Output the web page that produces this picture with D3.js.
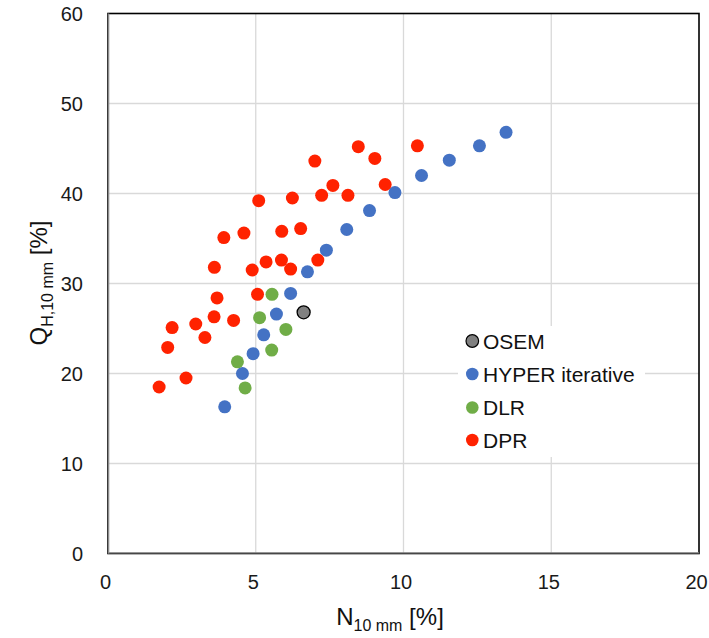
<!DOCTYPE html>
<html>
<head>
<meta charset="utf-8">
<script src="https://cdn.jsdelivr.net/npm/d3@7"></script>
<style>
  html, body { margin: 0; padding: 0; background: #fff; }
  svg { display: block; font-family: "Liberation Sans", Arial, sans-serif; }
</style>
</head>
<body>
<svg id="chart" width="709" height="638"></svg>
<script>
// Noise N10mm [%] (x) versus hot-sphere contrast QH,10mm [%] (y)
const osemN = [6.62];
const osemQ = [26.8];

const hyperN = [3.95, 4.55, 4.91, 5.27, 5.70, 6.18, 6.75, 7.39, 8.08, 8.85, 9.71, 10.61, 11.55, 12.57, 13.47];
const hyperQ = [16.3, 20.0, 22.2, 24.3, 26.6, 28.9, 31.3, 33.7, 36.0, 38.1, 40.1, 42.0, 43.7, 45.3, 46.8];

const dlrN = [5.55, 5.13, 6.02, 5.54, 4.38, 4.64];
const dlrQ = [28.8, 26.2, 24.9, 22.6, 21.3, 18.4];

const dprN = [7.00, 8.47, 9.03, 10.47, 7.61, 7.23, 8.12, 6.24, 5.10, 9.38,
              3.92, 4.60, 5.88, 6.52, 3.60, 4.88, 5.35, 5.87, 6.18, 7.10,
              3.69, 5.06, 3.59, 4.25, 2.17, 2.97, 3.28, 2.02, 2.64, 1.73];
const dprQ = [43.6, 45.2, 43.9, 45.3, 40.9, 39.8, 39.8, 39.5, 39.2, 41.0,
              35.1, 35.6, 35.8, 36.1, 31.8, 31.5, 32.4, 32.6, 31.6, 32.6,
              28.4, 28.8, 26.3, 25.9, 25.1, 25.5, 24.0, 22.9, 19.5, 18.5];

const xTicks = [0, 5, 10, 15, 20];
const yTicks = [0, 10, 20, 30, 40, 50, 60];

const series = [
  { name: "OSEM", n: osemN, q: osemQ, fill: "#808080", stroke: "#000" },
  { name: "HYPER iterative", n: hyperN, q: hyperQ, fill: "#4472C4", stroke: "none" },
  { name: "DLR", n: dlrN, q: dlrQ, fill: "#70AD47", stroke: "none" },
  { name: "DPR", n: dprN, q: dprQ, fill: "#FF2200", stroke: "none" }
];

const svg = d3.select("#chart");
const plotL = 108, plotR = 699, plotT = 13.5, plotB = 553.5;

const x = d3.scaleLinear().domain([0, 20]).range([plotL, plotR]);
const y = d3.scaleLinear().domain([0, 60]).range([plotB, plotT]);

// gridlines
const grid = svg.append("g").attr("stroke", "#d9d9d9").attr("stroke-width", 1.3);
grid.selectAll("line.v").data(xTicks.slice(1, -1)).join("line").attr("class", "v")
  .attr("x1", d => x(d)).attr("x2", d => x(d))
  .attr("y1", plotT).attr("y2", plotB);
grid.selectAll("line.h").data(yTicks.slice(1, -1)).join("line").attr("class", "h")
  .attr("x1", plotL).attr("x2", plotR)
  .attr("y1", d => y(d)).attr("y2", d => y(d));

// plot frame: black box with grey value axes on left and bottom
svg.append("rect")
  .attr("x", plotL).attr("y", plotT)
  .attr("width", plotR - plotL).attr("height", plotB - plotT)
  .attr("fill", "none").attr("stroke", "#000").attr("stroke-width", 1.6);
svg.append("line").attr("x1", plotL + 0.6).attr("x2", plotL + 0.6)
  .attr("y1", plotT).attr("y2", plotB).attr("stroke", "#8c8c8c").attr("stroke-width", 1.4);
svg.append("line").attr("x1", plotL).attr("x2", plotR)
  .attr("y1", plotB - 0.6).attr("y2", plotB - 0.6).attr("stroke", "#8c8c8c").attr("stroke-width", 1.4);

// tick labels via d3 axes (no tick marks, no domain)
const xAxis = svg.append("g").attr("transform", `translate(0,${plotB})`)
  .call(d3.axisBottom(x).tickValues(xTicks).tickSize(0).tickPadding(21));
const yAxis = svg.append("g").attr("transform", `translate(${plotL},0)`)
  .call(d3.axisLeft(y).tickValues(yTicks).tickSize(0).tickPadding(25));
[xAxis, yAxis].forEach(a => {
  a.select(".domain").remove();
  a.selectAll("text").attr("font-size", 20).attr("fill", "#1a1a1a")
    .attr("font-family", "'Liberation Sans', Arial, sans-serif");
});
xAxis.selectAll("text").attr("dx", -3);
yAxis.selectAll("text").attr("dy", "0.36em");

// points
series.forEach(s => {
  svg.append("g").selectAll("circle")
    .data(s.n.map((v, i) => [v, s.q[i]]))
    .join("circle")
    .attr("cx", d => x(d[0])).attr("cy", d => y(d[1]))
    .attr("r", 6.5)
    .attr("fill", s.fill)
    .attr("stroke", s.stroke).attr("stroke-width", s.stroke === "none" ? 0 : 1.3);
});

// legend
const legend = svg.append("g");
legend.append("rect").attr("x", 458).attr("y", 326).attr("width", 187).attr("height", 131).attr("fill", "#fff");
const rowY = [341, 374, 407.5, 440];
series.forEach((s, i) => {
  legend.append("circle").attr("cx", 472.3).attr("cy", rowY[i]).attr("r", 6.3)
    .attr("fill", s.fill).attr("stroke", s.stroke).attr("stroke-width", s.stroke === "none" ? 0 : 1.2);
  legend.append("text").attr("x", 483).attr("y", rowY[i]).attr("dy", "0.36em")
    .attr("font-size", 21).attr("fill", "#111").text(s.name);
});

// axis titles
const xt = svg.append("text").attr("x", 390).attr("y", 625).attr("text-anchor", "middle")
  .attr("font-size", 24).attr("fill", "#111");
xt.append("tspan").text("N");
xt.append("tspan").attr("font-size", 16).attr("dy", 6).text("10 mm");
xt.append("tspan").attr("dy", -6).text(" [%]");

const yt = svg.append("text").attr("transform", "translate(47,283) rotate(-90)")
  .attr("text-anchor", "middle").attr("font-size", 24).attr("fill", "#111");
yt.append("tspan").text("Q");
yt.append("tspan").attr("font-size", 16).attr("dy", 6).text("H,10 mm");
yt.append("tspan").attr("dy", -6).text(" [%]");
</script>
</body>
</html>
